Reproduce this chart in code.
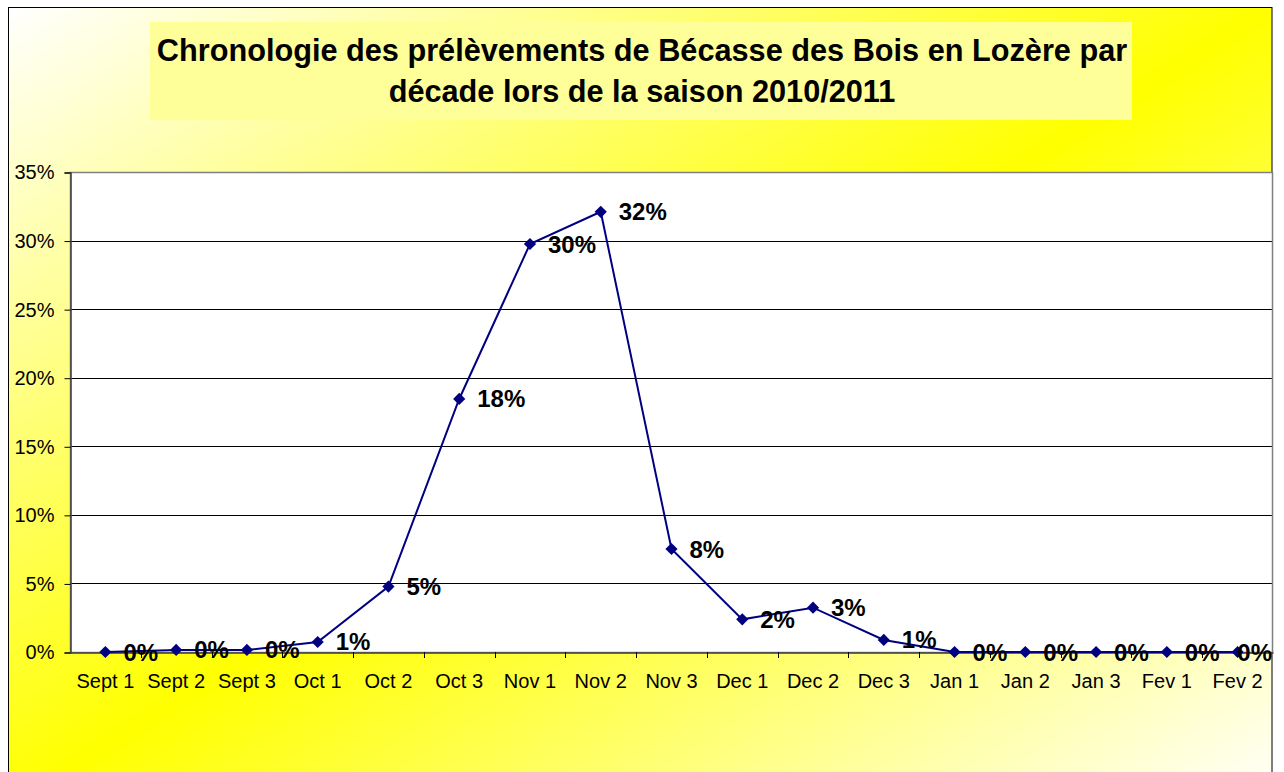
<!DOCTYPE html>
<html>
<head>
<meta charset="utf-8">
<script src="https://cdn.jsdelivr.net/npm/d3@7"></script>
<style>
  body { margin: 0; background: #fff; }
  text { font-family: Arial, "Liberation Sans", sans-serif; }
</style>
</head>
<body>
<div id="svg-wrap"></div>
<script>
"use strict";

//categories (decades) and share of harvest per decade
var decades = ["Sept 1", "Sept 2", "Sept 3", "Oct 1", "Oct 2", "Oct 3", "Nov 1", "Nov 2", "Nov 3",
  "Dec 1", "Dec 2", "Dec 3", "Jan 1", "Jan 2", "Jan 3", "Fev 1", "Fev 2"];

var shares = [0, 0.0015, 0.0015, 0.0073, 0.0477, 0.1845, 0.2975, 0.321, 0.0751,
  0.0238, 0.0323, 0.0088, 0, 0, 0, 0, 0];

var yTicks = [0, 0.05, 0.1, 0.15, 0.2, 0.25, 0.3, 0.35];

var titleLines = ["Chronologie des prélèvements de Bécasse des Bois en Lozère par",
  "décade lors de la saison 2010/2011"];

//plot area bounds
var w = 1284,
  h = 772,
  pLeft = 70,
  pRight = 1273,
  pTop = 172,
  pBottom = 652,
  chartRight = 1272;

var svg = d3
  .select("#svg-wrap")
  .append("svg")
  .attr("width", w)
  .attr("height", h);

//diagonal white - yellow - white background
var grad = svg
  .append("defs")
  .append("linearGradient")
  .attr("id", "bg")
  .attr("x1", 0)
  .attr("y1", 0)
  .attr("x2", 1)
  .attr("y2", 1);
grad.append("stop").attr("offset", "0%").attr("stop-color", "#ffffff");
grad.append("stop").attr("offset", "50%").attr("stop-color", "#ffff00");
grad.append("stop").attr("offset", "100%").attr("stop-color", "#ffffff");

svg
  .append("rect")
  .attr("x", 8.5)
  .attr("y", 7.5)
  .attr("width", chartRight - 8.5)
  .attr("height", 800)
  .attr("fill", "url(#bg)")
  .attr("stroke", "#000")
  .attr("stroke-width", 1);

//title box
svg
  .append("rect")
  .attr("x", 150)
  .attr("y", 22)
  .attr("width", 982)
  .attr("height", 98)
  .attr("fill", "#ffff99");

svg
  .append("g")
  .selectAll("text")
  .data(titleLines)
  .enter()
  .append("text")
  .attr("x", 642)
  .attr("y", function(d, i) {
    return 61 + i * 41;
  })
  .attr("text-anchor", "middle")
  .style("font-size", "30.7px")
  .style("font-weight", "bold")
  .text(function(d) {
    return d;
  });

var x = d3
  .scaleBand()
  .domain(decades)
  .range([pLeft, pRight]);

var y = d3
  .scaleLinear()
  .domain([0, 0.35])
  .range([pBottom, pTop]);

//plot area
svg
  .append("rect")
  .attr("x", pLeft)
  .attr("y", pTop)
  .attr("width", pRight - pLeft)
  .attr("height", pBottom - pTop)
  .attr("fill", "#fff");

svg
  .append("g")
  .selectAll("line")
  .data(yTicks)
  .enter()
  .append("line")
  .attr("x1", pLeft)
  .attr("x2", pRight)
  .attr("y1", function(d) {
    return Math.round(y(d)) + 0.5;
  })
  .attr("y2", function(d) {
    return Math.round(y(d)) + 0.5;
  })
  .attr("stroke", "#000");

svg
  .append("rect")
  .attr("x", pLeft + 0.5)
  .attr("y", pTop + 0.5)
  .attr("width", pRight - pLeft - 1)
  .attr("height", pBottom - pTop)
  .attr("fill", "none")
  .attr("stroke", "#808080")
  .attr("stroke-width", 1.5);

//axes
var yAxis = svg
  .append("g")
  .attr("transform", "translate(" + (pLeft + 0.5) + ",0.5)")
  .call(
    d3
      .axisLeft(y)
      .tickValues(yTicks)
      .tickFormat(d3.format(".0%"))
      .tickSize(6)
      .tickPadding(10)
  );

var xAxis = svg
  .append("g")
  .attr("transform", "translate(0," + (pBottom + 0.5) + ")")
  .call(
    d3
      .axisBottom(x)
      .tickSize(0)
      .tickPadding(21)
  );

[yAxis, xAxis].forEach(function(a) {
  a.selectAll("text")
    .style("font-size", "20px")
    .style("font-family", "Arial, 'Liberation Sans', sans-serif")
    .attr("fill", "#000");
  a.selectAll("line").attr("stroke", "#000");
  a.select(".domain").attr("stroke", "#404040").attr("stroke-width", 1.5);
});

//tick marks between categories
svg
  .append("g")
  .selectAll("line")
  .data(decades.slice(1))
  .enter()
  .append("line")
  .attr("x1", function(d) {
    return Math.round(x(d)) + 0.5;
  })
  .attr("x2", function(d) {
    return Math.round(x(d)) + 0.5;
  })
  .attr("y1", pBottom)
  .attr("y2", pBottom + 6)
  .attr("stroke", "#000");

//series
var cx = function(d, i) {
  return x(decades[i]) + x.bandwidth() / 2;
};

svg
  .append("path")
  .datum(shares)
  .attr("fill", "none")
  .attr("stroke", "#000080")
  .attr("stroke-width", 2)
  .attr(
    "d",
    d3
      .line()
      .x(cx)
      .y(function(d) {
        return y(d);
      })
  );

svg
  .append("g")
  .selectAll("path")
  .data(shares)
  .enter()
  .append("path")
  .attr("d", d3.symbol().type(d3.symbolDiamond2).size(95))
  .attr("transform", function(d, i) {
    return "translate(" + cx(d, i) + "," + y(d) + ")";
  })
  .attr("fill", "#000080");

//data labels right of points, kept inside the chart border
svg
  .append("g")
  .selectAll("text")
  .data(shares)
  .enter()
  .append("text")
  .attr("y", function(d) {
    return y(d) + 8.5;
  })
  .style("font-size", "24px")
  .style("font-weight", "bold")
  .text(d3.format(".0%"))
  .attr("x", function(d, i) {
    var tw = this.getComputedTextLength();
    return Math.min(cx(d, i) + 18, chartRight - tw);
  });
</script>
</body>
</html>
